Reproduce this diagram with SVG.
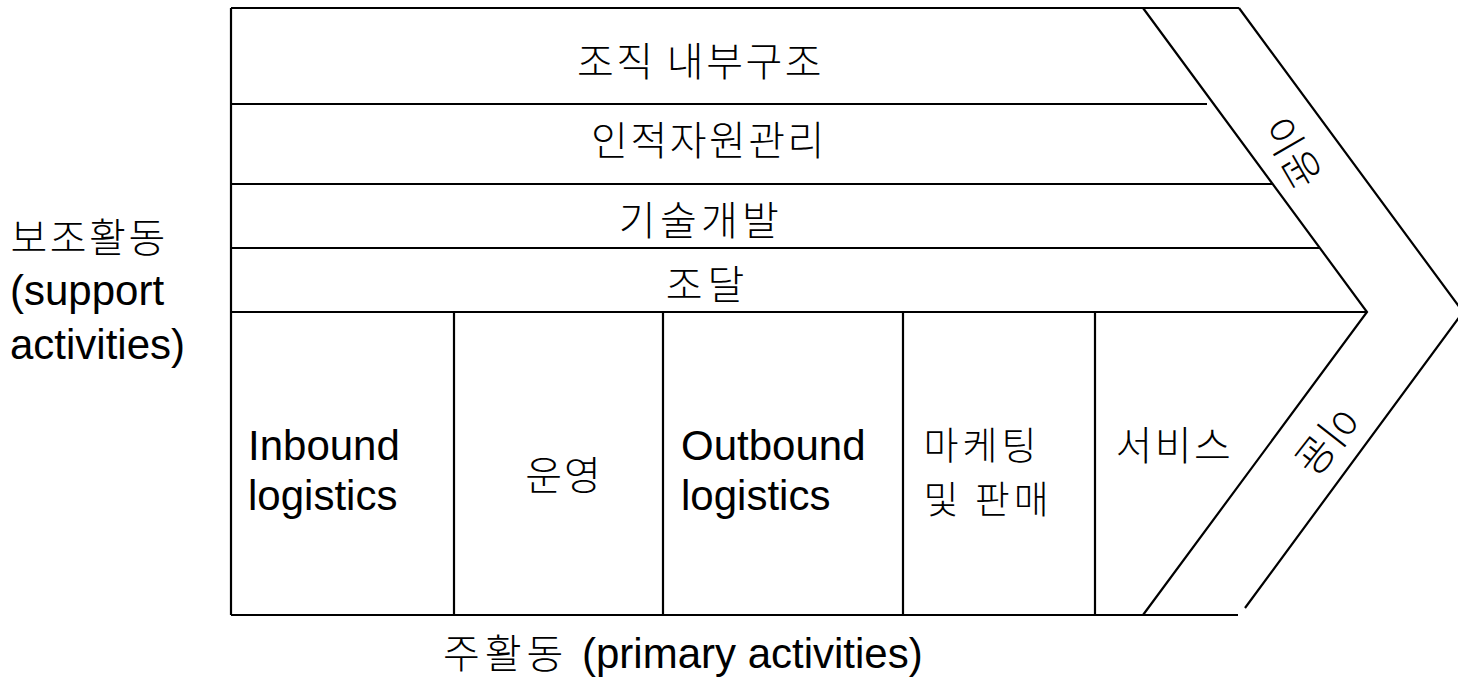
<svg xmlns="http://www.w3.org/2000/svg" width="1458" height="687" viewBox="0 0 1458 687">
  <style>
    .ln { stroke: #000; stroke-width: 2.2; fill: none; stroke-linecap: butt; }
    .t { font-family: "Liberation Sans", Arial, "Noto Sans CJK KR", sans-serif; font-size: 42px; fill: #000; }
    .k { font-family: "Noto Sans CJK KR", "Liberation Sans", sans-serif; font-size: 40px; font-weight: 300; letter-spacing: 2.5px; fill: #000; }
    .m { text-anchor: middle; }
  </style>
  <rect x="0" y="0" width="1458" height="687" fill="#fff"/>

  <g id="connectors">
    <line class="ln" x1="231" y1="8" x2="1239" y2="8"/>
    <line class="ln" x1="231" y1="8" x2="231" y2="615"/>
    <line class="ln" x1="231" y1="615" x2="1238" y2="615"/>
    <line class="ln" x1="231" y1="104" x2="1207" y2="104"/>
    <line class="ln" x1="231" y1="184" x2="1272" y2="184"/>
    <line class="ln" x1="231" y1="248" x2="1320" y2="248"/>
    <line class="ln" x1="231" y1="312" x2="1367" y2="312"/>
    <line class="ln" x1="454" y1="312" x2="454" y2="615"/>
    <line class="ln" x1="663" y1="312" x2="663" y2="615"/>
    <line class="ln" x1="903" y1="312" x2="903" y2="615"/>
    <line class="ln" x1="1095" y1="312" x2="1095" y2="615"/>
    <polyline class="ln" points="1143,8 1367,312 1143,615"/>
    <polyline class="ln" points="1239,8 1463,312 1245,608"/>
  </g>

  <g id="firm-infrastructure"><text class="k m" x="700.5" y="75.5">조직 내부구조</text></g>
  <g id="hrm"><text class="k m" x="709" y="155">인적자원관리</text></g>
  <g id="technology"><text class="k m" x="701" y="235" style="letter-spacing:4.3px">기술개발</text></g>
  <g id="procurement"><text class="k m" x="707.5" y="299" style="letter-spacing:5px">조달</text></g>

  <g id="inbound">
    <text class="t" x="248" y="460">Inbound</text>
    <text class="t" x="248" y="510">logistics</text>
  </g>
  <g id="operations"><text class="k m" x="564" y="490" style="letter-spacing:2px">운영</text></g>
  <g id="outbound">
    <text class="t" x="681" y="460">Outbound</text>
    <text class="t" x="681" y="510">logistics</text>
  </g>
  <g id="marketing">
    <text class="k" x="923.5" y="458.5" style="font-size:38px;letter-spacing:4px">마케팅</text>
    <text class="k" x="923.5" y="513" style="font-size:38px;letter-spacing:4px">및 판매</text>
  </g>
  <g id="service"><text class="k" x="1115.5" y="460">서비스</text></g>

  <g id="margin">
    <text class="k m" x="1" y="0" transform="translate(1294,151) rotate(60)" dominant-baseline="central" style="letter-spacing:1px">이윤</text>
    <text class="k m" x="1" y="0" transform="translate(1329,442) rotate(128)" dominant-baseline="central" style="letter-spacing:1px">이윤</text>
  </g>

  <g id="support-label">
    <text class="k" x="10.5" y="252">보조활동</text>
    <text class="t" x="10" y="305">(support</text>
    <text class="t" x="10" y="359">activities)</text>
  </g>
  <g id="primary-label"><text class="t" x="443" y="668"><tspan class="k" style="letter-spacing:5px">주활동 </tspan><tspan x="582">(primary activities)</tspan></text></g>
</svg>
